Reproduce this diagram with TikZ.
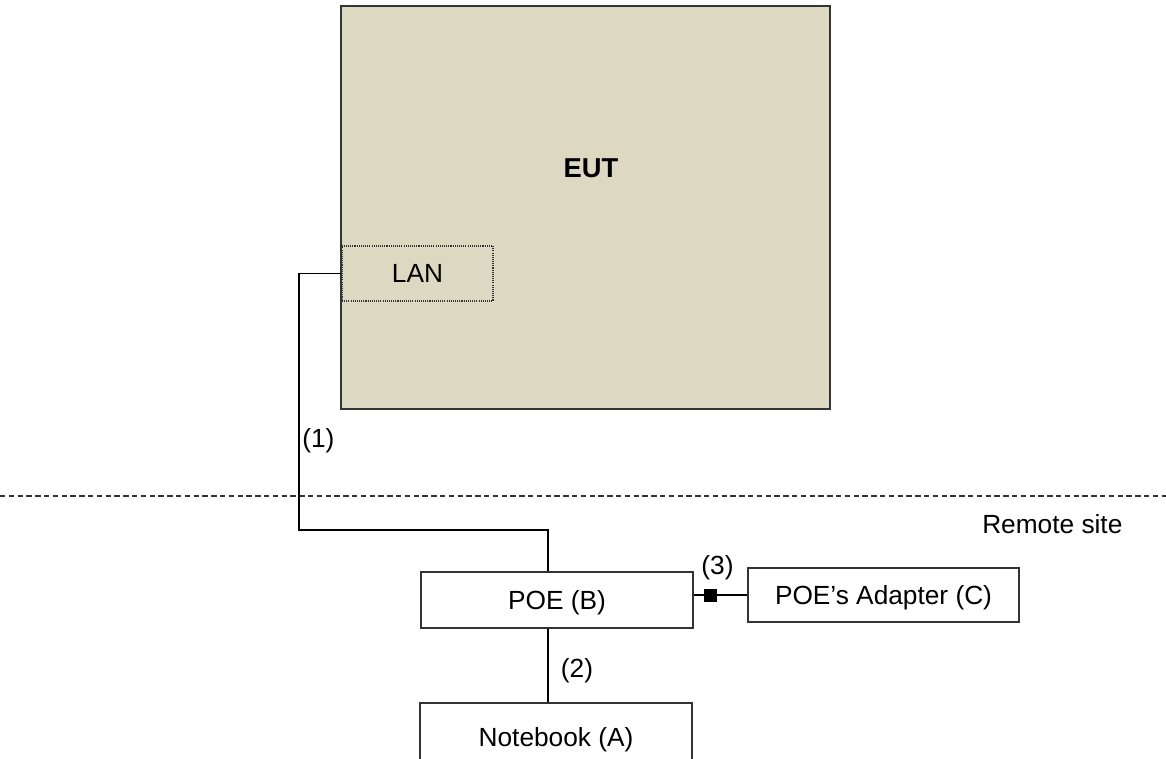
\documentclass[tikz,border=0pt]{standalone}
\usepackage{fontspec}
\setmainfont{Liberation Sans}
\definecolor{eutfill}{HTML}{DDD8C2}
\definecolor{edge}{HTML}{333333}
\begin{document}
\begin{tikzpicture}[x=0.75pt,y=-0.75pt,
  every node/.style={font=\fontsize{19.7pt}{23pt}\selectfont, inner sep=0pt},
  box/.style={draw=edge, line width=0.9pt, fill=white, rectangle, text height=18.9pt, text depth=4.2pt},
  wire/.style={draw=black, line width=0.8pt}]
\useasboundingbox (0,0) rectangle (1166,758);
% EUT
\node[rectangle, draw=edge, line width=1.5pt, fill=eutfill,
      minimum width=366.75pt, minimum height=302.25pt] (eut) at (585.5,207.5) {};
\node[font=\fontsize{20.5pt}{24pt}\selectfont\bfseries] (eutlabel) at (591,168) {EUT};
\node[rectangle, draw=edge, line width=0.8pt, dash pattern=on 0.8pt off 0.8pt,
      minimum width=113.25pt, minimum height=41.25pt] (lan) at (417.5,273.5) {LAN};
% dashed boundary
\coordinate (dl) at (0,496);
\coordinate (dr) at (1166,496);
\draw[draw=edge, line width=0.8pt, dash pattern=on 4pt off 2.6pt] (dl) -- (dr);
\node[anchor=base west] (remote) at (982,533) {Remote site};
% boxes
\node[box, minimum width=204pt, minimum height=42pt] (poe) at (557,600) {POE (B)};
\node[box, minimum width=203.25pt, minimum height=40.5pt] (adapter) at (883.5,595) {POE’s Adapter (C)};
\node[box, minimum width=204pt, minimum height=51pt] (nb) at (556,737) {Notebook (A)};
% wires
\coordinate (c1) at (299,530);
\coordinate (c2) at (548,530);
\draw[wire] (lan.west) -| (c1) -- (c2) -- (c2 |- poe.north);
\draw[wire] (c2 |- poe.south) -- (c2 |- nb.north);
\draw[wire] (adapter.west -| poe.east) -- (adapter.west);
\node[rectangle, fill=black, minimum size=9.75pt] (sq) at (710.5,595) {};
% labels
\node[anchor=west] (l1) at (302,441) {(1)};
\node (l2) at (577,671) {(2)};
\node (l3) at (717.5,568) {(3)};
\end{tikzpicture}
\end{document}
